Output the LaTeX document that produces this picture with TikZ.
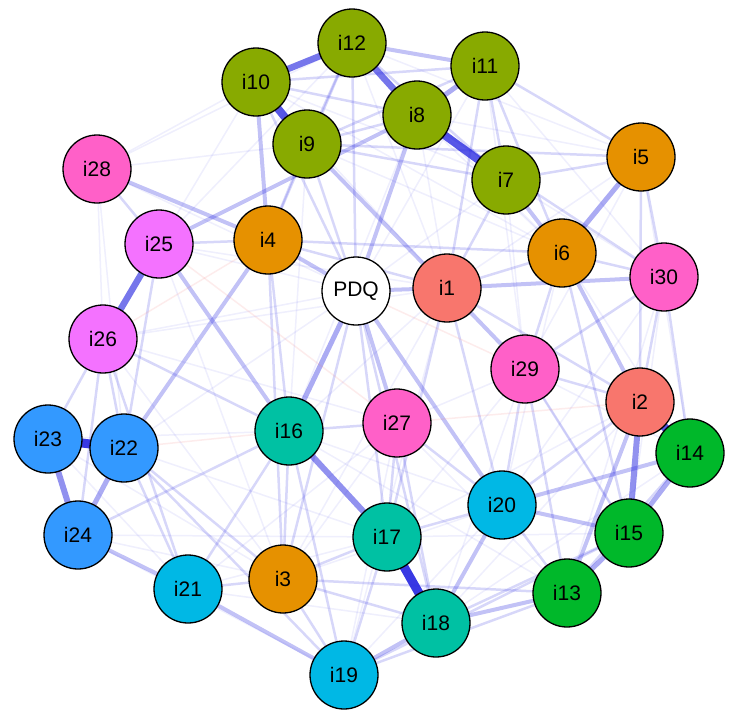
\documentclass[tikz,border=0pt]{standalone}
\usepackage{fontspec}
\setmainfont{Liberation Sans}
\definecolor{olv}{HTML}{88AA00}
\definecolor{org}{HTML}{E69100}
\definecolor{sal}{HTML}{F8766D}
\definecolor{pnk}{HTML}{FF60C8}
\definecolor{vio}{HTML}{F472FF}
\definecolor{blu}{HTML}{3399FF}
\definecolor{cya}{HTML}{00B8E5}
\definecolor{tea}{HTML}{00C1A3}
\definecolor{grn}{HTML}{00B82A}
\definecolor{eb}{RGB}{45,45,225}
\definecolor{er}{RGB}{240,120,120}
\begin{document}
\begin{tikzpicture}[x=1pt,y=-1pt,
  nd/.style={circle,draw=black,line width=1.3pt,minimum size=68pt,inner sep=0pt,font=\fontsize{21}{21}\selectfont},
  ez/.style={draw=eb,line width=1.5pt,draw opacity=0.08},
  ea/.style={draw=eb,line width=2.5pt,draw opacity=0.19},
  eb1/.style={draw=eb,line width=4pt,draw opacity=0.29},
  ec/.style={draw=eb,line width=5pt,draw opacity=0.4},
  ed/.style={draw=eb,line width=6pt,draw opacity=0.52},
  ee/.style={draw=eb,line width=6.5pt,draw opacity=0.65},
  ef/.style={draw=eb,line width=8pt,draw opacity=0.8},
  eg/.style={draw=eb,line width=9pt,draw opacity=0.94},
  en/.style={draw=er,line width=1.5pt,draw opacity=0.14}]
\useasboundingbox (0,0) rectangle (742,716);
% node positions
\coordinate (p12) at (352,43);
\coordinate (p11) at (485,66);
\coordinate (p10) at (256,82);
\coordinate (p8) at (417,115);
\coordinate (p9) at (307,144);
\coordinate (p7) at (506,180);
\coordinate (p28) at (97,169);
\coordinate (p5) at (641,157);
\coordinate (p25) at (159,244);
\coordinate (p4) at (268,240);
\coordinate (p6) at (562,253);
\coordinate (p30) at (664,277);
\coordinate (pPDQ) at (356,291);
\coordinate (p1) at (447,288);
\coordinate (p26) at (103,339);
\coordinate (p29) at (525,369);
\coordinate (p2) at (640,402);
\coordinate (p23) at (48,439);
\coordinate (p22) at (124,448);
\coordinate (p16) at (289,431);
\coordinate (p27) at (397,423);
\coordinate (p14) at (690,453);
\coordinate (p20) at (502,505);
\coordinate (p15) at (629,533);
\coordinate (p24) at (78,535);
\coordinate (p17) at (387,537);
\coordinate (p13) at (567,593);
\coordinate (p21) at (188,589);
\coordinate (p3) at (283,579);
\coordinate (p18) at (436,623);
\coordinate (p19) at (344,675);
% edges
\foreach \a/\b in {28/26,28/10,28/9,28/12,28/22,25/1,26/1,24/3,24/19,23/21,5/12,5/8,5/1,5/29,30/7,30/15,14/29,25/12,25/10,26/27,23/16,21/17,21/18,19/20,13/27,15/29,14/6,30/20,11/30,12/1,10/1,9/6,8/6,8/1,7/29,7/PDQ,11/PDQ,27/29,16/20,3/20,19/27,24/17,23/3,22/17,26/3,25/3,26/PDQ,28/PDQ,25/PDQ,22/PDQ,2/17,2/18,15/17,13/16,14/18,6/20,5/14,30/13,10/7,10/6,12/6,11/29,9/16,8/16,1/16,1/3,1/19,29/18,29/17,27/3,27/21}
  \draw[ez] (p\a) -- (p\b);
\foreach \a/\b in {1/6,6/30,28/25,12/PDQ,10/PDQ,9/PDQ,7/1,11/1,11/6,11/5,5/30,5/2,30/14,30/29,30/2,29/2,29/20,29/13,6/29,27/20,27/18,27/17,16/3,16/19,16/21,17/3,17/19,17/20,18/15,18/3,3/21,3/19,3/13,22/3,22/19,22/21,26/22,26/23,26/24,26/21,20/13,20/2,13/14,1/2,1/20,PDQ/18,19/13,19/15,4/6,4/9,4/12,9/11,9/7,10/8,10/11,12/7,7/5,4/16,4/3,PDQ/3,9/8,12/9,11/7,25/4,25/22,26/16,PDQ/17,1/17,29/15,6/15,4/1,24/16,16/27,9/5,8/30}
  \draw[ea] (p\a) -- (p\b);
\foreach \a/\b in {12/11,10/4,7/6,6/2,20/15,20/18,2/13,PDQ/1,PDQ/27,PDQ/20,1/29,1/30,4/22,25/8,28/4,20/14,18/13,18/19,21/19,9/1,8/PDQ,25/16,21/24,4/PDQ}
  \draw[eb1] (p\a) -- (p\b);
\foreach \a/\b in {PDQ/16,8/11,6/5,14/15,15/13,22/24}
  \draw[ec] (p\a) -- (p\b);
\draw[ed] (p16) -- (p17);
\draw[ed] (p23) -- (p24);
\draw[ed] (p2) -- (p15);
\draw[ee] (p25) -- (p26);
\draw[ee] (p12) -- (p8);
\draw[ee] (p12) -- (p10);
\draw[ef] (p2) -- (p14);
\draw[ef] (p10) -- (p9);
\draw[ef] (p8) -- (p7);
\draw[eg] (p17) -- (p18);
\draw[eg] (p23) -- (p22);
\foreach \a/\b in {22/16,26/4,PDQ/29,27/2,25/27}
  \draw[en] (p\a) -- (p\b);
% nodes
\foreach \n/\c in {12/olv,11/olv,10/olv,8/olv,9/olv,7/olv,28/pnk,5/org,25/vio,4/org,6/org,30/pnk,1/sal,26/vio,29/pnk,2/sal,23/blu,22/blu,16/tea,27/pnk,14/grn,20/cya,15/grn,24/blu,17/tea,13/grn,21/cya,3/org,18/tea,19/cya}
  \node[nd,fill=\c] (i\n) at (p\n) {i\n};
\node[nd,fill=white] (PDQ) at (pPDQ) {PDQ};
\end{tikzpicture}
\end{document}
